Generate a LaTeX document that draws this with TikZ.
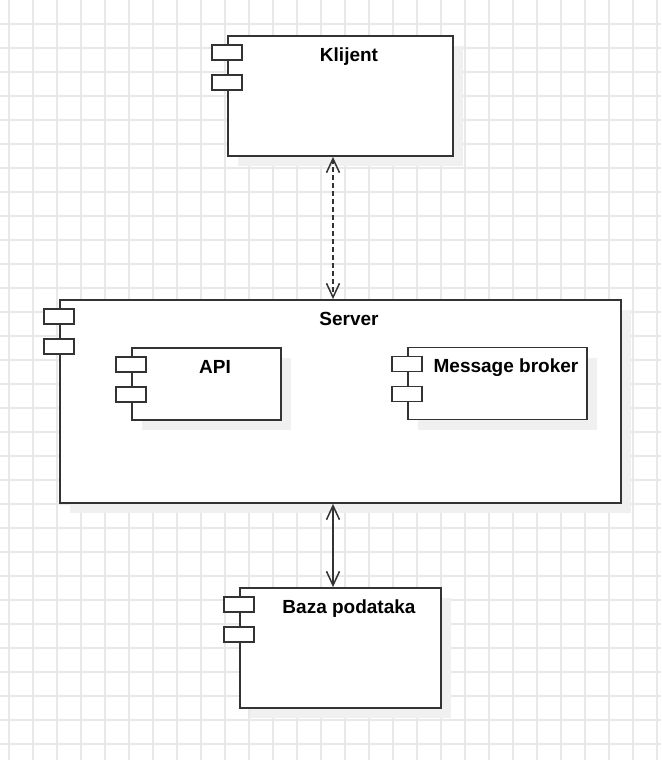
\documentclass[tikz,border=0pt]{standalone}
\usepackage{fontspec}
\setmainfont{Liberation Sans}
\usepackage{tikz}
\usetikzlibrary{arrows.meta,positioning,calc,shadows}
\definecolor{linecolor}{RGB}{51,51,51}
\definecolor{gridcolor}{RGB}{232,232,232}
\definecolor{shadowcolor}{RGB}{240,240,240}
\tikzset{
  gridln/.style={draw=gridcolor, line width=1.5pt},
  compbox/.style={draw=linecolor, fill=white, line width=1.8pt, inner sep=0pt,
    drop shadow={shadow xshift=10pt, shadow yshift=-10pt, fill=shadowcolor, opacity=1}},
  port/.style={draw=linecolor, fill=white, line width=1.6pt,
    minimum width=30pt, minimum height=15pt, inner sep=0pt},
  complbl/.style={font=\fontsize{19}{22}\selectfont\bfseries, text=black,
    inner sep=0pt, anchor=base},
  link/.style={{Straight Barb[length=14pt,width=13pt]}-{Straight Barb[length=14pt,width=13pt]},
    line width=1.5pt, draw=linecolor},
}

\begin{document}
\begin{tikzpicture}[x=1pt, y=-1pt]
    \fill[white] (0,0) rectangle (661,760);
    \useasboundingbox (0,0) rectangle (661,760);
    % grid
    \foreach \gx in {9,33,...,657} \draw[gridln] (\gx,0) -- (\gx,760);
    \foreach \gy in {24,48,...,744} \draw[gridln] (0,\gy) -- (661,\gy);

    % components
    \node[compbox, minimum width=225pt, minimum height=120pt] (klijent) at (340.5,96) {};
    \node[compbox, minimum width=561pt, minimum height=203pt] (server) at (340.5,401.5) {};
    \node[compbox, minimum width=149pt, minimum height=72pt] (api) at (206.5,384) {};
    \node[compbox, minimum width=179pt, minimum height=72pt] (broker) at (497.5,383.5) {};
    \node[compbox, minimum width=201pt, minimum height=120pt] (baza) at (340.5,648) {};

    \foreach \c in {klijent,server,api,broker,baza} {
      \node[port] (\c-p1) at ([yshift=-17.5pt]\c.north west) {};
      \node[port] (\c-p2) at ([yshift=-47.5pt]\c.north west) {};
    }

    % labels
    \node[complbl] (klijent-lbl) at ([xshift=8.5pt,yshift=-26pt]klijent.north) {Klijent};
    \node[complbl] (server-lbl) at ([xshift=8.5pt,yshift=-26pt]server.north) {Server};
    \node[complbl] (api-lbl) at ([xshift=8.5pt,yshift=-26pt]api.north) {API};
    \node[complbl] (broker-lbl) at ([xshift=8.5pt,yshift=-26pt]broker.north) {Message broker};
    \node[complbl] (baza-lbl) at ([xshift=8.5pt,yshift=-26pt]baza.north) {Baza podataka};

    % links
    \draw[link, dash pattern=on 5pt off 3pt]
      ([xshift=-7.5pt]klijent.south) -- ([xshift=-7.5pt]server.north);
    \draw[link] ([xshift=-7.5pt]server.south) -- ([xshift=-7.5pt]baza.north);
\end{tikzpicture}
\end{document}
